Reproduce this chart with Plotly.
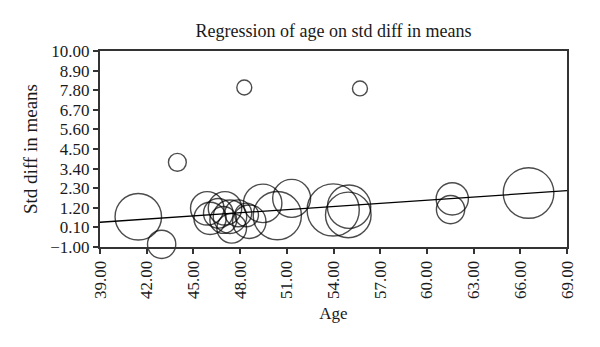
import plotly.graph_objects as go

# Data
age = [41.46, 42.96, 43.97, 48.27, 55.70,
       45.89, 46.07, 46.60, 47.03, 47.35, 47.46, 47.88, 48.42, 48.59, 46.92,
       49.45, 50.39, 51.31,
       53.98, 55.00, 54.95,
       61.63, 61.52, 66.53]
std_diff = [0.70, -0.85, 3.75, 7.95, 7.90,
            1.17, 0.61, 0.89, 1.17, 0.70, 0.05, 0.89, 0.80, 0.42, 0.52,
            1.45, 0.76, 1.73,
            1.08, 1.26, 0.80,
            1.70, 1.10, 2.03]
weight = [54, 20, 8, 5.6, 5.6,
          28, 26, 22, 28, 28, 22, 18, 14, 28, 18,
          37, 58, 36,
          68, 47, 52,
          26, 20, 64]
reg_intercept_at_39 = 0.39
reg_slope = 0.059

x_ticks = [39 + 3 * i for i in range(11)]
y_ticks = [round(-1 + 1.1 * i, 2) for i in range(11)]

font_family = "Liberation Serif"
txt = "#1a1a1a"

reg_x = [39, 69]
reg_y = [reg_intercept_at_39 + reg_slope * (v - 39) for v in reg_x]

fig = go.Figure()
fig.add_trace(go.Scatter(
    x=age, y=std_diff, mode="markers",
    marker=dict(size=weight, sizemode="area", sizeref=0.05,
                color="rgba(0,0,0,0)",
                line=dict(color="black", width=1.4)),
    cliponaxis=False, showlegend=False, hoverinfo="x+y"))
fig.add_trace(go.Scatter(
    x=reg_x, y=reg_y, mode="lines",
    line=dict(color="black", width=1.3), showlegend=False))

axis_common = dict(showgrid=False, zeroline=False, showline=True, mirror=True,
                   linecolor="#333333", linewidth=2, ticks="outside",
                   ticklen=5, tickwidth=1.5, tickcolor="#333333",
                   tickfont=dict(family=font_family, size=17, color=txt),
                   tickformat=".2f")

fig.update_layout(
    width=600, height=347,
    margin=dict(l=100, r=33, t=51, b=100),
    paper_bgcolor="white", plot_bgcolor="white",
    title=dict(text="Regression of age on std diff in means",
               xref="paper", x=0.5, xanchor="center",
               yref="container", y=1 - 31 / 347, yanchor="middle",
               font=dict(family=font_family, size=18, color=txt)),
    xaxis=dict(range=[39, 69], tickvals=x_ticks, tickangle=-90,
               title=dict(text="Age", font=dict(family=font_family, size=17, color=txt),
                          standoff=9),
               **axis_common),
    yaxis=dict(range=[-1, 10], tickvals=y_ticks,
               title=dict(text="Std diff in means", font=dict(family=font_family, size=19, color=txt),
                          standoff=8),
               **axis_common),
)

fig.write_html("out.html")
